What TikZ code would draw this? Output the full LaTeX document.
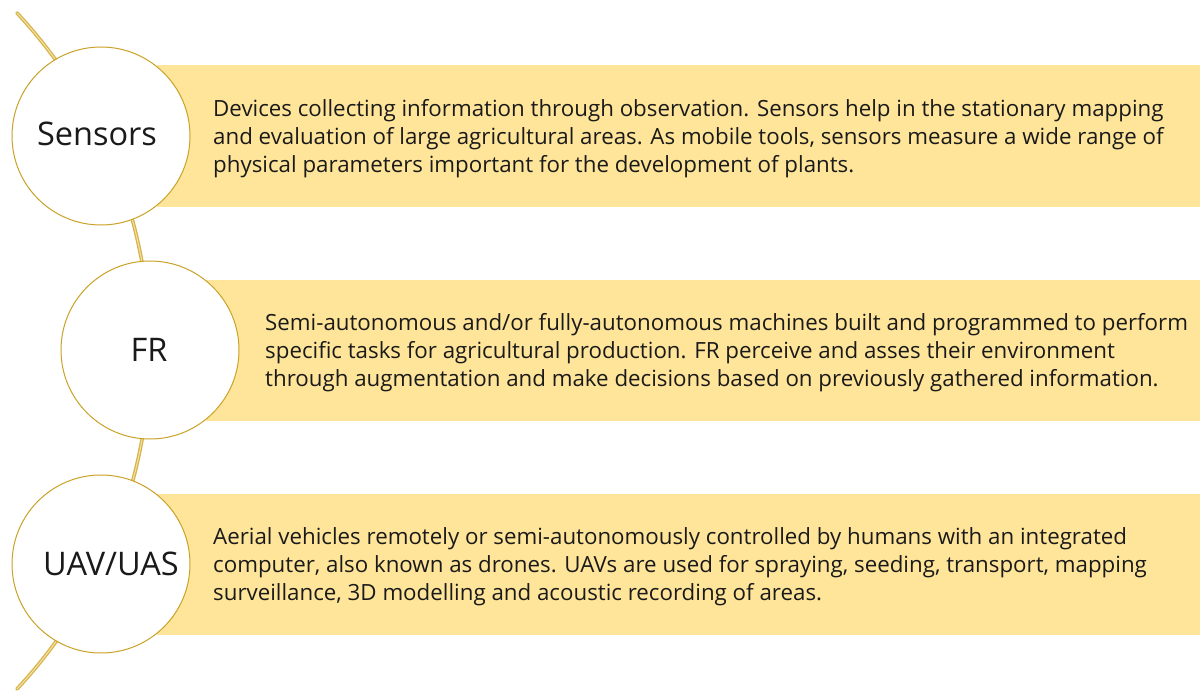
\documentclass[tikz,border=0pt]{standalone}
\usepackage{fontspec}
\setmainfont{Open Sans}
\usetikzlibrary{calc}
\definecolor{bandfill}{HTML}{FFE599}
\definecolor{goldline}{HTML}{C9A227}
\definecolor{goldarc}{HTML}{D6B24A}
\definecolor{goldarcin}{HTML}{F3E0A0}
\definecolor{inktext}{HTML}{1A1A1A}
\begin{document}
\begin{tikzpicture}[x=1pt,y=1pt,
  band/.style={fill=bandfill,draw=none},
  bubble/.style={circle,draw=goldline,line width=1pt,fill=white,minimum size=178pt,inner sep=0pt},
  bublabel/.style={inner sep=0pt,font=\fontsize{32.5}{38}\selectfont,text=inktext},
  desc/.style={anchor=west,align=left,inner sep=0pt,font=\fontsize{22.3}{28}\selectfont,text=inktext}]
\useasboundingbox (0,0) rectangle (1203,691);
% bands
\fill[band] (157,484) rectangle (1200,626);
\fill[band] (206,270) rectangle (1200,411);
\fill[band] (157,56) rectangle (1200,197);
% arc
\coordinate (arcC) at (-346,340);
\coordinate (arcTop) at ($(arcC)+(42.96:496)$);
\draw[goldarc,line width=3.6pt,line cap=round] (arcTop) arc[start angle=42.96,end angle=-42.96,radius=496];
\draw[goldarcin,line width=1.1pt] (arcTop) arc[start angle=42.96,end angle=-42.96,radius=496];
% circles
\node[bubble] (s) at (101,555) {};
\node[bubble] (f) at (150,341) {};
\node[bubble] (u) at (101,127) {};
\node[bublabel] (sl) at (97,557) {Sensors};
\node[bublabel] (fl) at (149,341) {FR};
\node[bublabel] (ul) at (111,127) {UAV/UAS};
% texts
\node[desc] (ts) at (213,552) {Devices collecting information through observation. Sensors help in the stationary mapping\\and evaluation of large agricultural areas. As mobile tools, sensors measure a wide range of\\physical parameters important for the development of plants.};
\node[desc] (tf) at (265,338) {Semi-autonomous and/or fully-autonomous machines built and programmed to perform\\specific tasks for agricultural production. FR perceive and asses their environment\\through augmentation and make decisions based on previously gathered information.};
\node[desc] (tu) at (213,124) {Aerial vehicles remotely or semi-autonomously controlled by humans with an integrated\\computer, also known as drones. UAVs are used for spraying, seeding, transport, mapping\\surveillance, 3D modelling and acoustic recording of areas.};
\end{tikzpicture}
\end{document}
